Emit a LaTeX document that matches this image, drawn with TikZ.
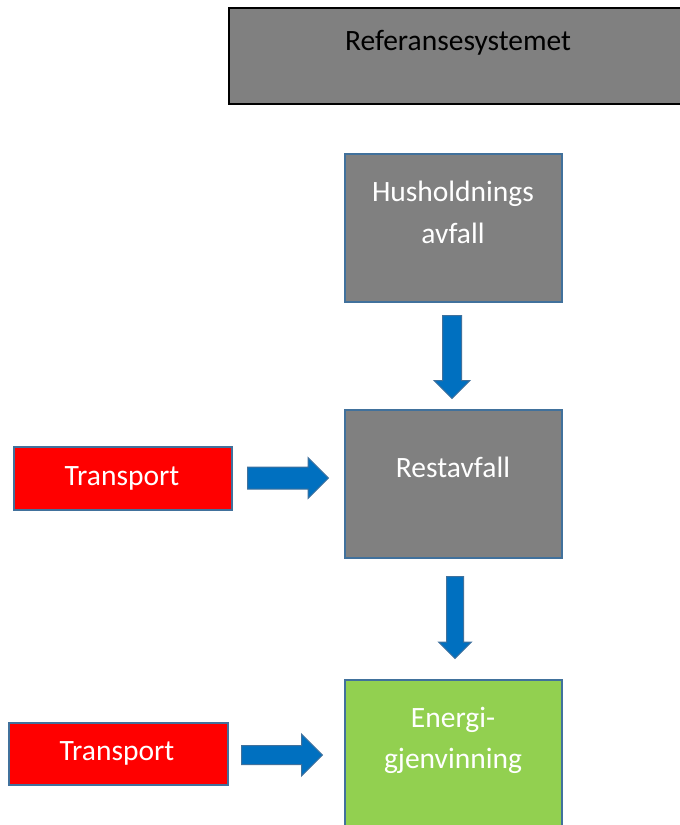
\documentclass[tikz,border=0pt]{standalone}
\usepackage{fontspec}
\setmainfont{Carlito}
\usetikzlibrary{shapes.arrows}

\definecolor{boxgray}{HTML}{808080}
\definecolor{edgeblue}{HTML}{41719C}
\definecolor{arrowblue}{HTML}{0070C0}
\definecolor{hotred}{HTML}{FF0000}
\definecolor{leafgreen}{HTML}{92D050}

\tikzset{
  procbox/.style={draw=edgeblue, line width=2pt, inner sep=0pt, anchor=north west},
  graybox/.style={procbox, fill=boxgray},
  redbox/.style={procbox, fill=hotred},
  greenbox/.style={procbox, fill=leafgreen},
  txt/.style={font=\fontsize{29.5}{35}\selectfont, anchor=base, inner sep=0pt},
  wtxt/.style={txt, text=white},
  % shaft width = 2 * inner ysep, head width = shaft + 2 * head extend
  blockarrow/.style={single arrow, draw=edgeblue, fill=arrowblue, line width=1pt,
    inner xsep=0pt, single arrow tip angle=90, anchor=tail},
}

\begin{document}
\begin{tikzpicture}[x=1pt, y=-1pt]
  \useasboundingbox (0,0) rectangle (680,825);
  \fill[white] (0,0) rectangle (680,825);

  % header box, runs off the right edge
  \node[draw=black, fill=boxgray, line width=2pt, inner sep=0pt, anchor=north west,
        minimum width=460pt, minimum height=96pt] (ref) at (228,7) {};
  \node[txt] (reftxt) at (458,50) {Referansesystemet};

  % main chain
  \node[graybox, minimum width=217pt, minimum height=148pt] (hus) at (344,153) {};
  \node[wtxt] (hus1) at (453,201) {Husholdnings};
  \node[wtxt] (hus2) at (453,243) {avfall};

  \node[graybox, minimum width=217pt, minimum height=148pt] (rest) at (344,409) {};
  \node[wtxt] (resttxt) at (453,477) {Restavfall};

  \node[greenbox, minimum width=217pt, minimum height=160pt] (energi) at (344,679) {};
  \node[wtxt] (en1) at (453,727) {Energi-};
  \node[wtxt] (en2) at (453,768) {gjenvinning};

  % transport inputs
  \node[redbox, minimum width=218pt, minimum height=63pt] (tr1) at (13,446) {};
  \node[wtxt] (tr1txt) at (122,485) {Transport};

  \node[redbox, minimum width=219pt, minimum height=62pt] (tr2) at (8,722) {};
  \node[wtxt] (tr2txt) at (117,760) {Transport};

  % block arrows between the boxes, placed by their tails
  \node[blockarrow, rotate=-90, minimum height=83pt, inner ysep=9pt,
        single arrow head extend=8.5pt] (a1) at (452,315) {};
  \node[blockarrow, rotate=-90, minimum height=82pt, inner ysep=8pt,
        single arrow head extend=8pt] (a2) at (455,576) {};
  \node[blockarrow, minimum height=81pt, inner ysep=10.5pt,
        single arrow head extend=9.5pt] (a3) at (247,478) {};
  \node[blockarrow, minimum height=81pt, inner ysep=9pt,
        single arrow head extend=11.5pt] (a4) at (241,755) {};
\end{tikzpicture}
\end{document}
